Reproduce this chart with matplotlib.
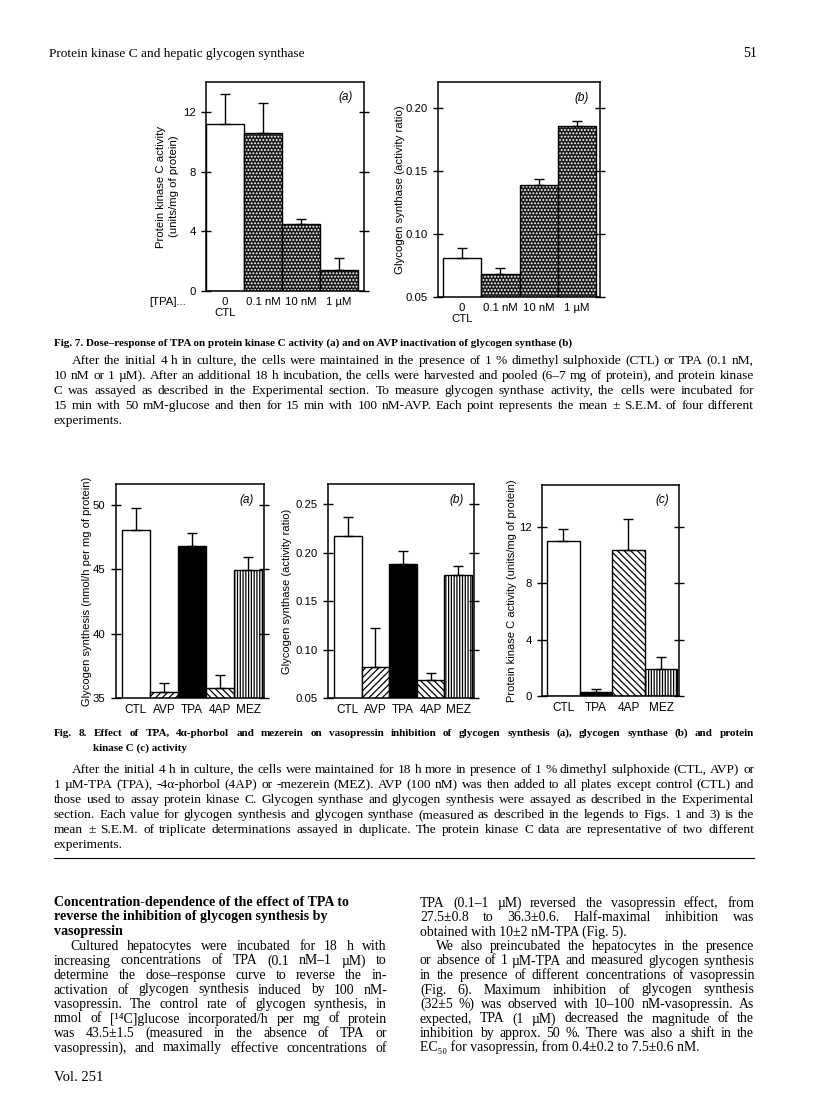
import matplotlib
matplotlib.use('Agg')
import matplotlib.pyplot as plt
from matplotlib.ticker import FormatStrFormatter

W, H = 816, 1104
SERIF = ['Liberation Serif', 'DejaVu Serif']
SANS = 'Liberation Sans'

# Fig. 7: dose-response of TPA
doses = ['0\nCTL', '0.1 nM', '10 nM', '1 µM']
pkc_dose = [11.2, 10.6, 4.5, 1.4]
pkc_dose_err = [2.0, 2.0, 0.3, 0.8]
gs_dose = [0.081, 0.068, 0.139, 0.186]
gs_dose_err = [0.008, 0.005, 0.005, 0.004]

# Fig. 8: TPA, 4a-phorbol, mezerein
treat = ['CTL', 'AVP', 'TPA', '4AP', 'MEZ']
synth = [48.0, 35.5, 46.8, 35.8, 44.9]
synth_err = [1.7, 0.7, 1.0, 1.0, 1.0]
gs_treat = [0.217, 0.082, 0.188, 0.069, 0.177]
gs_treat_err = [0.020, 0.040, 0.014, 0.007, 0.009]
pkc_labels = ['CTL', 'TPA', '4AP', 'MEZ']
pkc_treat = [11.0, 0.3, 10.4, 1.9]
pkc_treat_err = [0.9, 0.2, 2.2, 0.9]

plt.rcParams['hatch.linewidth'] = 0.9

fig = plt.figure(figsize=(W / 100, H / 100), dpi=100)

STYLE = {'CTL': ('white', ''), 'AVP': ('white', '/////'), 'TPA': ('black', ''),
         '4AP': ('white', '\\\\\\\\\\'), 'MEZ': ('white', '||||||')}


def px_axes(l, t, r, b):
    return fig.add_axes([l / W, 1 - b / H, (r - l) / W, (b - t) / H])


def setup(ax, ylim, yticks, xlim, fmt, ylabel, lab_x, tag, xsize=8.5, labsize=8):
    ax.set_ylim(ylim)
    ax.set_xlim(xlim)
    ax.set_yticks(yticks)
    ax.yaxis.set_major_formatter(FormatStrFormatter(fmt))
    ax.tick_params(axis='y', direction='inout', length=7, width=1, right=True,
                   labelsize=8.2, pad=4)
    ax.tick_params(axis='x', length=0, labelsize=xsize, pad=4)
    for lab in ax.get_xticklabels() + ax.get_yticklabels():
        lab.set_family(SANS)
    for s in ax.spines.values():
        s.set_linewidth(1.1)
    ax.set_ylabel(ylabel, fontsize=labsize, family=SANS, linespacing=1.4)
    ax.yaxis.set_label_coords(lab_x, 0.5)
    ax.text(0.93, 0.955, tag, transform=ax.transAxes, ha='right', va='top',
            fontsize=8.5, style='italic', family=SANS)


def err(ax, vals, errs):
    ax.errorbar(range(len(vals)), vals, yerr=[[0] * len(vals), errs], fmt='none',
                ecolor='black', elinewidth=1, capsize=3.5, capthick=1, zorder=4)


def dose_bars(ax, vals, errs):
    for i, v in enumerate(vals):
        if i == 0:
            ax.bar(i, v, width=1, color='white', edgecolor='black', lw=1)
        else:
            ax.bar(i, v, width=1, color='#1c1c1c', edgecolor='white', hatch='.....', lw=0)
            ax.bar(i, v, width=1, fill=False, edgecolor='black', lw=1)
    err(ax, vals, errs)
    ax.set_xticks(range(len(vals)))
    ax.set_xticklabels(doses)


def treat_bars(ax, labels, vals, errs):
    for i, (lab, v) in enumerate(zip(labels, vals)):
        fc, h = STYLE[lab]
        ax.bar(i, v, width=1, color=fc, edgecolor='black', hatch=h, lw=1)
    err(ax, vals, errs)
    ax.set_xticks(range(len(vals)))
    ax.set_xticklabels(labels)


# Fig. 7 (a)
ax = px_axes(206, 82, 364, 291)
dose_bars(ax, pkc_dose, pkc_dose_err)
setup(ax, (0, 14), [0, 4, 8, 12], (-0.5, 3.66), '%d',
      'Protein kinase C activity\n(units/mg of protein)', -0.17, '(a)', xsize=8.2, labsize=8.2)
fig.text(186 / W, 1 - 302 / H, '[TPA]...', ha='right', va='center', fontsize=8.2, family=SANS)

# Fig. 7 (b)
ax = px_axes(438, 82, 600, 297)
dose_bars(ax, gs_dose, gs_dose_err)
setup(ax, (0.05, 0.2206), [0.05, 0.10, 0.15, 0.20], (-0.63, 3.6), '%.2f',
      'Glycogen synthase (activity ratio)', -0.205, '(b)', xsize=8.2, labsize=8.2)

# Fig. 8 (a)
ax = px_axes(116, 484, 264, 698)
treat_bars(ax, treat, synth, synth_err)
setup(ax, (35, 51.6), [35, 40, 45, 50], (-0.71, 4.57), '%d',
      'Glycogen synthesis (nmol/h per mg of protein)', -0.16, '(a)')

# Fig. 8 (b)
ax = px_axes(328, 484, 474, 698)
treat_bars(ax, treat, gs_treat, gs_treat_err)
setup(ax, (0.05, 0.2707), [0.05, 0.10, 0.15, 0.20, 0.25], (-0.72, 4.57), '%.2f',
      'Glycogen synthase (activity ratio)', -0.25, '(b)')

# Fig. 8 (c)
ax = px_axes(542, 485, 679, 696)
treat_bars(ax, pkc_labels, pkc_treat, pkc_treat_err)
setup(ax, (0, 15), [0, 4, 8, 12], (-0.65, 3.55), '%d',
      'Protein kinase C activity (units/mg of protein)', -0.18, '(c)')


# ---- page text ----
renderer = fig.canvas.get_renderer()


def line(s, x0, y, size, x1=None, weight='normal'):
    kw = dict(fontsize=size, family=SERIF, weight=weight, va='baseline')
    words = s.split()
    if x1 is None or len(words) < 2:
        fig.text(x0 / W, 1 - y / H, s, **kw)
        return
    arts = [fig.text(0, 1 - y / H, w, **kw) for w in words]
    ws = [a.get_window_extent(renderer).width for a in arts]
    gap = (x1 - x0 - sum(ws)) / (len(words) - 1)
    x = x0
    for a, w in zip(arts, ws):
        a.set_x(x / W)
        x += w + gap


def para(lines, x0, x1, y0, step, size, indent=0, last_full=False, weight='normal',
         justify=True):
    for i, s in enumerate(lines):
        xs = x0 + (indent if i == 0 else 0)
        full = justify and (i < len(lines) - 1 or last_full)
        line(s, xs, y0 + i * step, size, x1 if full else None, weight)


L, R = 54, 754
CAP = 9.6
BODY = 9.9
TITLE = 8.0

line('Protein kinase C and hepatic glycogen synthase', 49, 57, 9.6)
fig.text(757 / W, 1 - 57 / H, '51', ha='right', va='baseline', fontsize=10, family=SERIF)

# Fig. 7 legend
line('Fig. 7. Dose–response of TPA on protein kinase C activity (a) and on AVP inactivation '
     'of glycogen synthase (b)', L, 346, TITLE, weight='bold')
para(['After the initial 4 h in culture, the cells were maintained in the presence of 1 % '
      'dimethyl sulphoxide (CTL) or TPA (0.1 nM,',
      '10 nM or 1 µM). After an additional 18 h incubation, the cells were harvested and '
      'pooled (6–7 mg of protein), and protein kinase',
      'C was assayed as described in the Experimental section. To measure glycogen synthase '
      'activity, the cells were incubated for',
      '15 min with 50 mM-glucose and then for 15 min with 100 nM-AVP. Each point represents '
      'the mean ± S.E.M. of four different',
      'experiments.'], L, R, 364, 15, CAP, indent=18)

# Fig. 8 legend
line('Fig. 8. Effect of TPA, 4α-phorbol and mezerein on vasopressin inhibition of glycogen '
     'synthesis (a), glycogen synthase (b) and protein', L, 736, TITLE, x1=R, weight='bold')
line('kinase C (c) activity', L + 39, 751, TITLE, weight='bold')
para(['After the initial 4 h in culture, the cells were maintained for 18 h more in presence '
      'of 1 % dimethyl sulphoxide (CTL, AVP) or',
      '1 µM-TPA (TPA), -4α-phorbol (4AP) or -mezerein (MEZ). AVP (100 nM) was then added to '
      'all plates except control (CTL) and',
      'those used to assay protein kinase C. Glycogen synthase and glycogen synthesis were '
      'assayed as described in the Experimental',
      'section. Each value for glycogen synthesis and glycogen synthase (measured as described '
      'in the legends to Figs. 1 and 3) is the',
      'mean ± S.E.M. of triplicate determinations assayed in duplicate. The protein kinase C '
      'data are representative of two different',
      'experiments.'], L, R, 773, 15, CAP, indent=18)
fig.add_artist(plt.Line2D([L / W, R / W], [1 - 858 / H, 1 - 858 / H], color='black', lw=0.8))

# left column
CL, CR = 54, 387
para(['Concentration-dependence of the effect of TPA to',
      'reverse the inhibition of glycogen synthesis by',
      'vasopressin'], CL, CR, 906, 14.3, BODY + 0.2, weight='bold', justify=False)
para(['Cultured hepatocytes were incubated for 18 h with',
      'increasing concentrations of TPA (0.1 nM–1 µM) to',
      'determine the dose–response curve to reverse the in-',
      'activation of glycogen synthesis induced by 100 nM-',
      'vasopressin. The control rate of glycogen synthesis, in',
      'nmol of [¹⁴C]glucose incorporated/h per mg of protein',
      'was 43.5±1.5 (measured in the absence of TPA or',
      'vasopressin), and maximally effective concentrations of'],
     CL, CR, 950, 14.5, BODY, indent=16, last_full=True)
line('Vol. 251', CL, 1081, 10.5)

# right column
RL, RR = 420, 754
para(['TPA (0.1–1 µM) reversed the vasopressin effect, from',
      '27.5±0.8 to 36.3±0.6. Half-maximal inhibition was',
      'obtained with 10±2 nM-TPA (Fig. 5).'], RL, RR, 907, 14.3, BODY)
para(['We also preincubated the hepatocytes in the presence',
      'or absence of 1 µM-TPA and measured glycogen synthesis',
      'in the presence of different concentrations of vasopressin',
      '(Fig. 6). Maximum inhibition of glycogen synthesis',
      '(32±5 %) was observed with 10–100 nM-vasopressin. As',
      'expected, TPA (1 µM) decreased the magnitude of the',
      'inhibition by approx. 50 %. There was also a shift in the',
      'EC₅₀ for vasopressin, from 0.4±0.2 to 7.5±0.6 nM.'],
     RL, RR, 950, 14.5, BODY, indent=16)

fig.savefig('out.png', dpi=100)
